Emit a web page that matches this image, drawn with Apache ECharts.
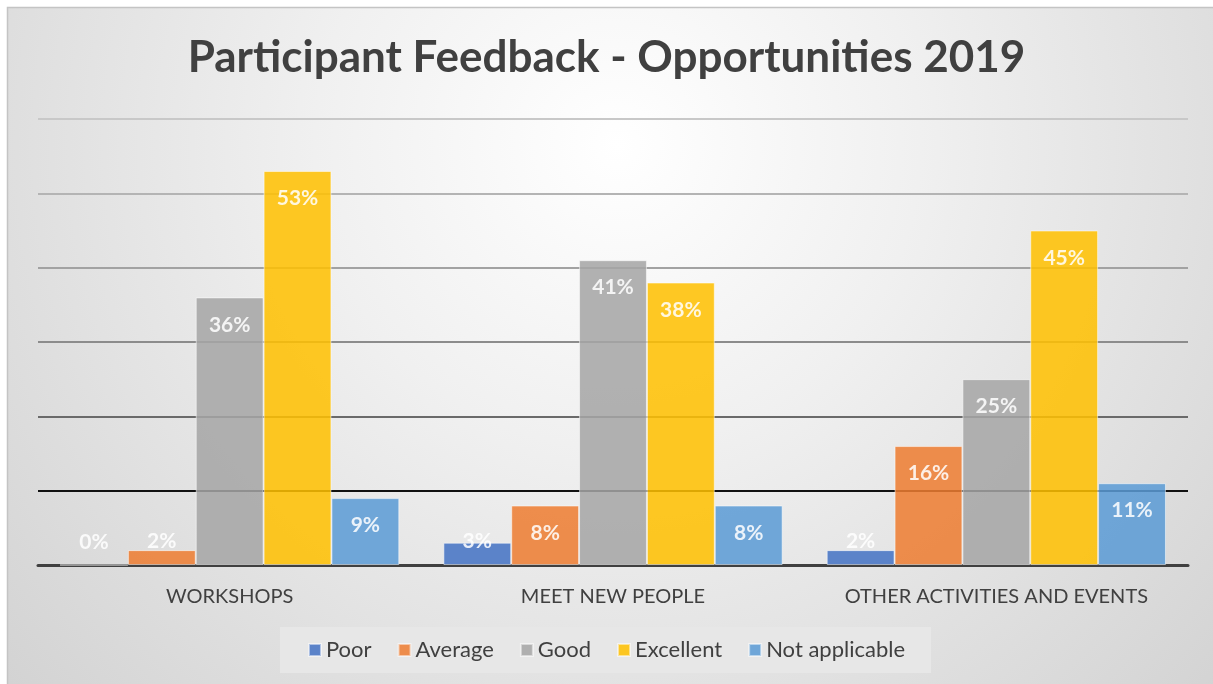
<!DOCTYPE html>
<html>
<head>
<meta charset="utf-8">
<script src="https://cdn.jsdelivr.net/npm/echarts@6/dist/echarts.min.js"></script>
<style>
  html, body { margin: 0; padding: 0; background: #fff; }
  #chart { width: 1213px; height: 684px; }
</style>
</head>
<body>
<div id="chart"></div>
<script>
const categories = ['WORKSHOPS', 'MEET NEW PEOPLE', 'OTHER ACTIVITIES AND EVENTS']
const poor = [0, 3, 2]
const average = [2, 8, 16]
const good = [36, 41, 25]
const excellent = [53, 38, 45]
const notApplicable = [9, 8, 11]
const yTicks = [0, 10, 20, 30, 40, 50, 60]

const seriesDefs = [
  { name: 'Poor', data: poor, color: '#4472C4' },
  { name: 'Average', data: average, color: '#ED7D31' },
  { name: 'Good', data: good, color: '#A5A5A5' },
  { name: 'Excellent', data: excellent, color: '#FFC000' },
  { name: 'Not applicable', data: notApplicable, color: '#5B9BD5' }
]

const font = 'Lato, "Open Sans", sans-serif'
const myChart = echarts.init(document.getElementById('chart'))

myChart.setOption({
  backgroundColor: '#ffffff',
  textStyle: { fontFamily: font },
  graphic: [{
    type: 'rect',
    z: -10,
    silent: true,
    shape: { x: 7.5, y: 7.5, width: 1220, height: 690 },
    style: {
      fill: new echarts.graphic.RadialGradient(0.5, 0.2, 1.25, [
        { offset: 0, color: '#ffffff' },
        { offset: 0.35, color: '#f0f0f0' },
        { offset: 1, color: '#d0d0d0' }
      ]),
      stroke: '#c4c4c4',
      lineWidth: 1.5
    }
  }],
  title: {
    text: 'Participant Feedback - Opportunities 2019',
    left: 'center',
    top: 31,
    textStyle: {
      fontFamily: font,
      fontSize: 44,
      fontWeight: 'bold',
      color: '#404040'
    }
  },
  legend: {
    left: 'center',
    top: 627,
    padding: [12, 26, 12, 28],
    backgroundColor: '#e7e7e7',
    itemWidth: 12,
    itemHeight: 12,
    itemGap: 26,
    icon: 'rect',
    textStyle: { fontFamily: font, fontSize: 22, color: '#404040' },
    data: seriesDefs.map(s => s.name)
  },
  grid: {
    left: 38,
    right: 25,
    top: 119,
    bottom: 119,
    containLabel: false
  },
  xAxis: {
    type: 'category',
    data: categories,
    axisTick: { show: false },
    axisLine: { lineStyle: { color: '#404040', width: 3 } },
    axisLabel: {
      interval: 0,
      margin: 22,
      fontFamily: font,
      fontSize: 20,
      color: '#404040'
    }
  },
  yAxis: {
    type: 'value',
    min: yTicks[0],
    max: yTicks[yTicks.length - 1],
    interval: 10,
    axisLabel: { show: false },
    axisLine: { show: false },
    axisTick: { show: false },
    splitLine: {
      lineStyle: {
        width: 2,
        color: ['#404040', '#111111', '#6a6a6a', '#8c8c8c', '#a2a2a2', '#b4b4b4', '#c8c8c8']
      }
    }
  },
  series: seriesDefs.map(s => ({
    name: s.name,
    type: 'bar',
    barGap: '0%',
    barCategoryGap: '11.5%',
    itemStyle: {
      color: s.color,
      opacity: 0.86,
      borderColor: 'rgba(255,255,255,0.6)',
      borderWidth: 1
    },
    label: {
      show: true,
      position: 'insideTop',
      distance: 17,
      formatter: '{c}%',
      color: '#ffffff',
      fontFamily: font,
      fontSize: 21,
      fontWeight: 'bold'
    },
    data: s.data.map(v => v < 7
      ? { value: v, label: { position: 'insideBottom', distance: 13 } }
      : v)
  }))
})
</script>
</body>
</html>
